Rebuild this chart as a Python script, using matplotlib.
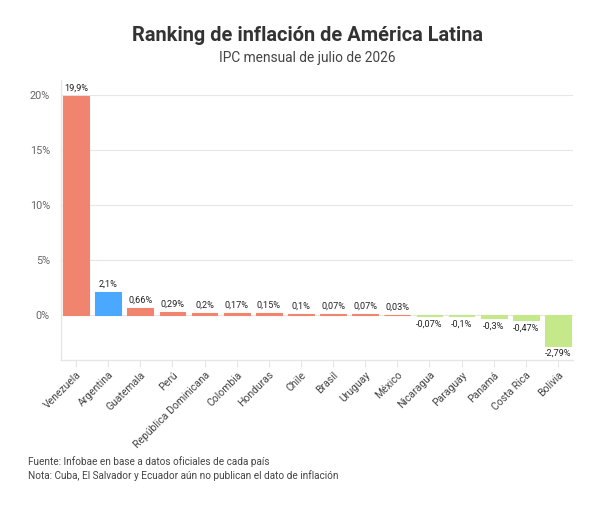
import numpy as np
import matplotlib.pyplot as plt

plt.rcParams['font.family'] = ['Roboto', 'DejaVu Sans']

# Data
countries = ['Venezuela', 'Argentina', 'Guatemala', 'Perú', 'República Dominicana',
             'Colombia', 'Honduras', 'Chile', 'Brasil', 'Uruguay', 'México',
             'Nicaragua', 'Paraguay', 'Panamá', 'Costa Rica', 'Bolivia']
values = [19.9, 2.1, 0.66, 0.29, 0.2, 0.17, 0.15, 0.1, 0.07, 0.07, 0.03,
          -0.07, -0.1, -0.3, -0.47, -2.79]
labels = ['19,9%', '2,1%', '0,66%', '0,29%', '0,2%', '0,17%', '0,15%', '0,1%',
          '0,07%', '0,07%', '0,03%', '-0,07%', '-0,1%', '-0,3%', '-0,47%', '-2,79%']
yticks = [0, 5, 10, 15, 20]

red, blue, green = '#F0846E', '#4AA8FF', '#C5E88A'
colors = []
for c, v in zip(countries, values):
    if c == 'Argentina':
        colors.append(blue)
    elif v < 0:
        colors.append(green)
    else:
        colors.append(red)

fig = plt.figure(figsize=(6.04, 5.05), dpi=100)
ax = fig.add_axes([61 / 604, 1 - 360 / 505, 512 / 604, 280 / 505])

x = np.arange(len(countries))
ax.bar(x, values, width=0.8, color=colors, edgecolor=colors, linewidth=0.8, zorder=3)

for xi, v, lab in zip(x, values, labels):
    if v >= 0:
        ax.annotate(lab, (xi, v), xytext=(0, 2.5), textcoords='offset points',
                    ha='center', va='bottom', fontsize=6.6, color='#222222')
    else:
        ax.annotate(lab, (xi, v), xytext=(0, -2.5), textcoords='offset points',
                    ha='center', va='top', fontsize=6.6, color='#222222')

ax.set_xlim(-0.47, len(countries) - 0.53)
ax.set_ylim(-4.09, 21.36)
ax.set_yticks(yticks)
ax.set_yticklabels([f'{t}%' for t in yticks], fontsize=7.8, color='#666666')
ax.grid(axis='y', color='#e6e6e6', linewidth=0.8, zorder=0)

ax.set_xticks(x)
ax.set_xticklabels(countries, rotation=45, ha='right', rotation_mode='anchor',
                   fontsize=7.5, color='#444444')

for s in ['top', 'right']:
    ax.spines[s].set_visible(False)
for s in ['left', 'bottom']:
    ax.spines[s].set_color('#e6e6e6')
    ax.spines[s].set_linewidth(1.0)
ax.tick_params(axis='x', length=5, color='#e6e6e6', pad=2)
ax.tick_params(axis='y', length=0, pad=8)

fig.text(307 / 604, 1 - 35 / 505, 'Ranking de inflación de América Latina',
         ha='center', va='center', fontsize=14.4, fontweight='bold', color='#333333')
fig.text(307 / 604, 1 - 58 / 505, 'IPC mensual de julio de 2026',
         ha='center', va='center', fontsize=9.9, color='#444444')

fig.text(28 / 604, 1 - 462 / 505, 'Fuente: Infobae en base a datos oficiales de cada país',
         ha='left', va='center', fontsize=7.2, color='#444444')
fig.text(28 / 604, 1 - 476 / 505, 'Nota: Cuba, El Salvador y Ecuador aún no publican el dato de inflación',
         ha='left', va='center', fontsize=7.2, color='#444444')

plt.savefig('out.png', dpi=100)
